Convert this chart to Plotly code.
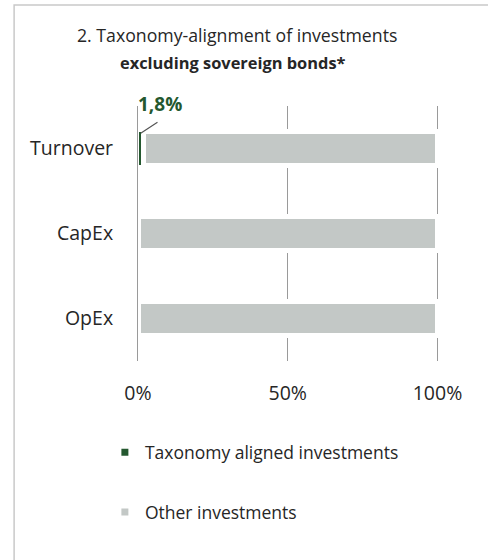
import plotly.graph_objects as go

categories = ["Turnover", "CapEx", "OpEx"]
aligned = [1.8, 0.0, 0.0]
other = [98.2, 100.0, 100.0]
x_ticks = [0, 50, 100]
x_tick_labels = ["0%", "50%", "100%"]
series_names = ["Taxonomy aligned investments", "Other investments"]
title_line1 = "2. Taxonomy-alignment of investments"
title_line2 = "excluding sovereign bonds*"
label_text = "1,8%"

GREEN = "#24582f"
GRAY = "#c3c8c6"
TEXT = "#262626"
GRID = "#9a9a9a"
FONT = "Open Sans"

fig = go.Figure()
fig.add_trace(go.Bar(
    y=categories, x=aligned, orientation="h", name=series_names[0],
    marker=dict(color=GREEN, line=dict(color="white", width=2)),
    width=0.41, showlegend=False, hoverinfo="skip",
))
fig.add_trace(go.Bar(
    y=categories, x=other, orientation="h", name=series_names[1],
    marker=dict(color=GRAY, line=dict(color="white", width=5)),
    width=0.41, showlegend=False, hoverinfo="skip",
))
# legend proxies
for i, (nm, col) in enumerate(zip(series_names, [GREEN, GRAY])):
    fig.add_trace(go.Scatter(
        x=[None], y=[None], mode="markers", name=nm, legendgroup=f"g{i}",
        marker=dict(symbol="square", size=7, color=col),
    ))

# data label for the aligned Turnover share
fig.add_annotation(
    x=7.3, y=1.008, xref="x", yref="paper", xanchor="center", yanchor="middle",
    text=f"<b>{label_text}</b>",
    showarrow=False, font=dict(family=FONT, size=19, color=GREEN),
)
fig.add_annotation(
    x=0.9, y=-0.18, ax=7, ay=-0.32, xref="x", yref="y", axref="x", ayref="y",
    text="", showarrow=True, arrowhead=0, arrowwidth=1.2, arrowcolor="#555555",
)
fig.add_annotation(
    x=0.33, y=1.278, xref="paper", yref="paper", xanchor="center", yanchor="middle",
    text=title_line1, showarrow=False,
    font=dict(family=FONT, size=17.7, color=TEXT),
)
fig.add_annotation(
    x=0.317, y=1.1725, xref="paper", yref="paper", xanchor="center", yanchor="middle",
    text=f"<b>{title_line2}</b>", showarrow=False,
    font=dict(family=FONT, size=16.4, color=TEXT),
)
# outer frame
fig.add_shape(type="rect", xref="paper", yref="paper",
              x0=-0.4116, x1=1.3, y0=-0.9, y1=1.396,
              line=dict(color="#c9c9c9", width=1.5), layer="below")

fig.update_layout(
    width=488, height=560,
    margin=dict(l=138, r=48.5, t=106, b=199, autoexpand=False),
    paper_bgcolor="white", plot_bgcolor="white",
    barmode="stack", bargap=0.59,
    font=dict(family=FONT, color=TEXT),
    showlegend=True,
    legend=dict(
        x=-0.11, xanchor="left", y=-0.288, yanchor="top",
        font=dict(family=FONT, size=17.5, color=TEXT),
        traceorder="grouped", tracegroupgap=34,
        bgcolor="rgba(0,0,0,0)", itemwidth=30,
    ),
    xaxis=dict(
        range=[0, 100.5], tickvals=x_ticks, ticktext=x_tick_labels,
        showgrid=True, gridcolor=GRID, gridwidth=1, zeroline=False,
        showline=False, ticks="", ticklabelstandoff=18, automargin=False,
        tickfont=dict(family=FONT, size=19.5, color=TEXT), fixedrange=True,
    ),
    yaxis=dict(
        type="category", categoryorder="array", categoryarray=categories,
        range=[2.5, -0.5], autorange=False,
        showgrid=False, zeroline=False, showline=True, linecolor=GRID,
        linewidth=1, layer="above traces", ticks="", ticklabelstandoff=20,
        automargin=False,
        tickfont=dict(family=FONT, size=19.5, color=TEXT), fixedrange=True,
    ),
)

fig.write_html("out.html", config={"displayModeBar": False},
               post_script="document.body.style.margin='0';")
